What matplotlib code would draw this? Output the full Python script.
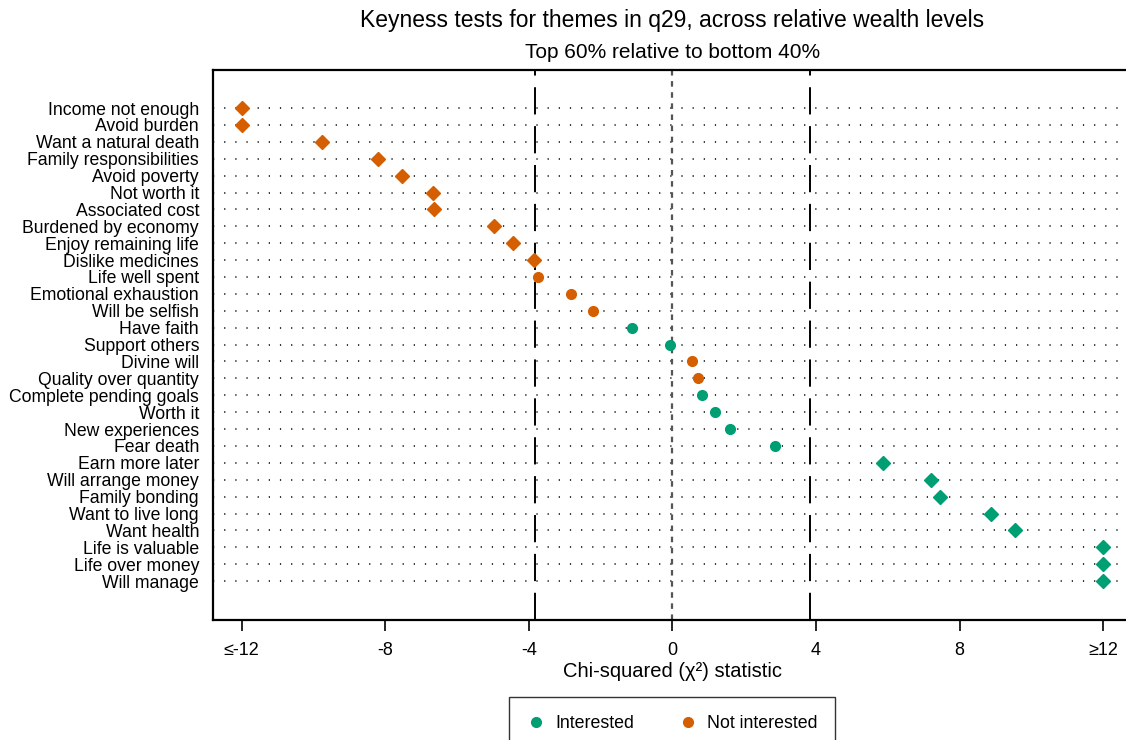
import numpy as np
import matplotlib
matplotlib.use("Agg")
import matplotlib.pyplot as plt
from matplotlib.lines import Line2D

plt.rcParams['font.family'] = ['Liberation Sans', 'DejaVu Sans']

# Themes (top to bottom) and chi-squared statistic (clipped at +/-12)
themes = ["Income not enough", "Avoid burden", "Want a natural death", "Family responsibilities",
          "Avoid poverty", "Not worth it", "Associated cost", "Burdened by economy",
          "Enjoy remaining life", "Dislike medicines", "Life well spent", "Emotional exhaustion",
          "Will be selfish", "Have faith", "Support others", "Divine will", "Quality over quantity",
          "Complete pending goals", "Worth it", "New experiences", "Fear death", "Earn more later",
          "Will arrange money", "Family bonding", "Want to live long", "Want health",
          "Life is valuable", "Life over money", "Will manage"]
chi2 = [-12, -12, -9.77, -8.21, -7.53, -6.68, -6.65, -4.97, -4.44, -3.86, -3.75, -2.82,
        -2.22, -1.13, -0.06, 0.55, 0.72, 0.82, 1.19, 1.61, 2.86, 5.85, 7.21, 7.46, 8.87,
        9.54, 12, 12, 12]
group = ["Not", "Not", "Not", "Not", "Not", "Not", "Not", "Not", "Not", "Not", "Not", "Not",
         "Not", "Int", "Int", "Not", "Not", "Int", "Int", "Int", "Int", "Int", "Int", "Int",
         "Int", "Int", "Int", "Int", "Int"]
xticks = [-12, -8, -4, 0, 4, 8, 12]
xticklabels = ["≤-12", "-8", "-4", "0", "4", "8", "≥12"]
crit = 3.84

green = "#009e73"
orange = "#d55e00"

fig = plt.figure(figsize=(11.26, 7.40), dpi=100)
ax = fig.add_axes([213 / 1126, 1 - 620 / 740, (1132 - 213) / 1126, 550 / 740])

ypos = np.arange(1, len(themes) + 1)
for y in ypos:
    ax.axhline(y, color="black", lw=1.1, ls=(0, (0.8, 6.5)), zorder=1)

ax.axvline(0, color="#555555", lw=1.6, ls=(0, (2.5, 2.5)), zorder=1)
for c in (-crit, crit):
    ax.axvline(c, color="black", lw=1.4, ls=(0, (14, 6)), zorder=1)

for y, v, g in zip(ypos, chi2, group):
    col = green if g == "Int" else orange
    if abs(v) > crit:
        ax.plot(v, y, marker="D", ms=7.5, color=col, mec=col, zorder=3, ls="none")
    else:
        ax.plot(v, y, marker="o", ms=7, color=col, mec=col, zorder=3, ls="none")

ax.set_xlim(-12.8, 12.8)
ax.set_ylim(31.3, -1.25)
ax.set_yticks(ypos)
ax.set_yticklabels(themes, fontsize=12.7)
ax.tick_params(axis="y", length=0, pad=10)
ax.set_xticks(xticks)
ax.set_xticklabels(xticklabels, fontsize=13)
ax.tick_params(axis="x", length=8, width=1.2, pad=8)
ax.set_xlabel("Chi-squared (χ²) statistic", fontsize=14.5, labelpad=2)
for s in ax.spines.values():
    s.set_linewidth(1.6)

fig.text(0.597, 1 - 20 / 740, "Keyness tests for themes in q29, across relative wealth levels",
         ha="center", va="center", fontsize=16.5)
fig.text(0.597, 1 - 52 / 740, "Top 60% relative to bottom 40%", ha="center", va="center", fontsize=15)

handles = [Line2D([], [], marker="o", ls="none", color=green, ms=7, label="Interested"),
           Line2D([], [], marker="o", ls="none", color=orange, ms=7, label="Not interested")]
leg = fig.legend(handles=handles, loc="upper center", bbox_to_anchor=(0.597, 1 - 697 / 740),
                 ncol=2, fontsize=12.8, frameon=True, fancybox=False, edgecolor="black",
                 borderpad=1.0, borderaxespad=0, handletextpad=0.6, columnspacing=2.5,
                 handlelength=1)
leg.get_frame().set_linewidth(1.0)

fig.savefig("out.png", dpi=100)
